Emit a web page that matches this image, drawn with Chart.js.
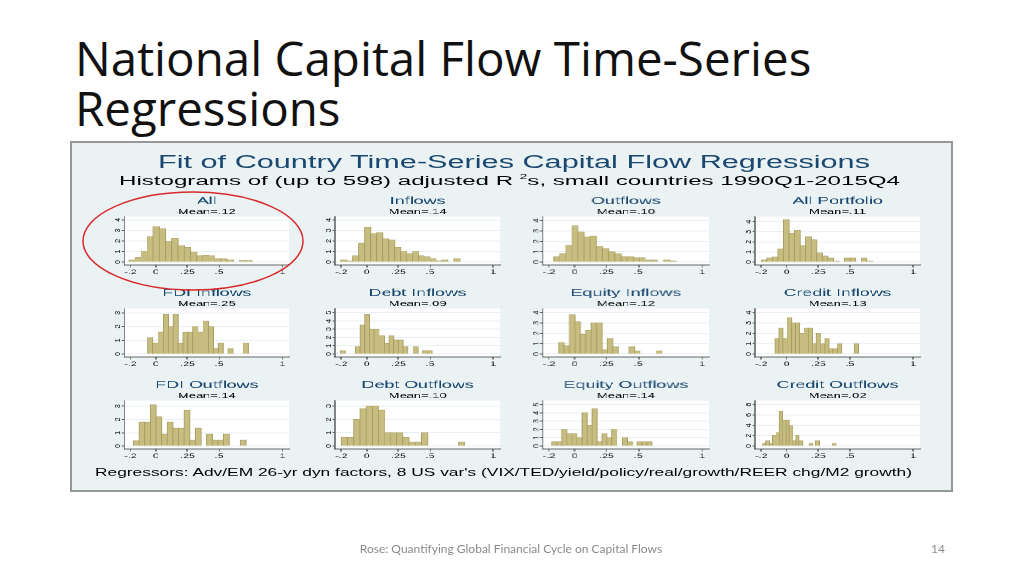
<!DOCTYPE html>
<html>
<head>
<meta charset="utf-8">
<script src="https://cdn.jsdelivr.net/npm/chart.js@4.4.1/dist/chart.umd.min.js"></script>
<style>
  html, body { margin:0; padding:0; background:#fff; }
  body { width:1024px; height:575px; position:relative; overflow:hidden; font-family:"Liberation Sans", Arial, sans-serif; }
  #slideTitle { position:absolute; left:75px; top:33px; font-family:"Open Sans", "Noto Sans", sans-serif; font-size:47.5px; line-height:50px; color:#111; white-space:nowrap; }
  #frame { position:absolute; left:70px; top:141px; width:883px; height:351px; background:#eaf2f3; overflow:hidden; }
  #frameBorder { position:absolute; left:70px; top:141px; width:883px; height:351px; box-sizing:border-box; border:2px solid #979797; pointer-events:none; }
  #stretch { position:absolute; left:0; top:0; height:351px; transform-origin:0 0; }
  .panel { position:absolute; }
  .fit { position:absolute; white-space:nowrap; line-height:1.2; transform-origin:0 0; }
  #chartTitle { font-size:17.5px; color:#1a476f; }
  #chartSub { font-size:12.5px; color:#000; }
  #chartSub sup { font-size:7px; vertical-align:6px; line-height:0; }
  #chartNote { font-size:10.5px; color:#000; }
  #slideFooter { position:absolute; left:311px; width:400px; top:541px; text-align:center; font-family:Lato, "Open Sans", sans-serif; font-size:12px; line-height:16px; color:#8b8b8b; }
  #pageNum { position:absolute; left:918px; width:40px; top:541px; text-align:center; font-family:Lato, "Open Sans", sans-serif; font-size:12px; line-height:16px; color:#8b8b8b; }
  #ring { position:absolute; left:0; top:0; pointer-events:none; }
</style>
</head>
<body>
<div id="slideTitle">National Capital Flow Time-Series<br>Regressions</div>

<div id="frame"><div id="stretch"></div></div>
<div id="frameBorder"></div>

<div class="fit" id="chartTitle">Fit of Country Time-Series Capital Flow Regressions</div>
<div class="fit" id="chartSub">Histograms of (up to 598) adjusted R <sup>2</sup>s, small countries 1990Q1-2015Q4</div>
<div class="fit" id="chartNote">Regressors: Adv/EM 26-yr dyn factors, 8 US var's (VIX/TED/yield/policy/real/growth/REER chg/M2 growth)</div>

<svg id="ring" width="1024" height="575"><ellipse cx="193" cy="241" rx="110" ry="49" fill="none" stroke="#d82a2a" stroke-width="1.5"/></svg>

<div id="slideFooter">Rose: Quantifying Global Financial Cycle on Capital Flows</div>
<div id="pageNum">14</div>

<script>
// ---------------- DATA ----------------
const panelTitles = ['All', 'Inflows', 'Outflows', 'All Portfolio',
                     'FDI Inflows', 'Debt Inflows', 'Equity Inflows', 'Credit Inflows',
                     'FDI Outflows', 'Debt Outflows', 'Equity Outflows', 'Credit Outflows'];
const panelMeans = ['.12', '.14', '.10', '.11', '.25', '.09', '.12', '.13', '.14', '.10', '.14', '.02'];

// histogram bins (adjusted R-squared): left edge of first bin and bin width, per panel
const binStart = [-0.215, -0.204, -0.165, -0.200, -0.0625, -0.205, -0.126, -0.094, -0.178, -0.200, -0.178, -0.190];
const binWidth = [0.0487, 0.0471, 0.0480, 0.0440, 0.0396, 0.0380, 0.0427, 0.0330, 0.0445, 0.0487, 0.0393, 0.0263];

// densities per bin
const densAll          = [0.2, 0.45, 1.0, 2.4, 3.35, 3.15, 1.95, 2.25, 1.55, 1.4, 0.95, 0.6, 0.65, 0.6, 0.3, 0.3, 0.2, 0, 0.15, 0.15];
const densInflows      = [0.2, 0.1, 0.6, 1.8, 3.3, 2.7, 2.8, 2.2, 2.1, 1.4, 1.0, 0.8, 1.0, 0.6, 0.5, 0.3, 0.1, 0.2, 0, 0.3];
const densOutflows     = [0.5, 0.8, 1.6, 3.5, 2.9, 2.4, 2.5, 1.5, 1.3, 1.0, 0.8, 0.5, 0.5, 0.4, 0.4, 0.2, 0.2, 0, 0.2, 0.1];
const densAllPortfolio = [0.2, 0.4, 0.5, 1.3, 4.2, 2.85, 3.15, 1.6, 2.5, 2.2, 0.9, 0.6, 0.4, 0.1, 0, 0.4, 0.4, 0, 0.4, 0.1];
const densFdiIn        = [1.2, 0.8, 1.6, 2.9, 2.0, 2.9, 0.8, 1.6, 1.6, 2.0, 1.6, 2.4, 2.0, 0.4, 0.8, 0, 0.4, 0, 0, 0.8];
const densDebtIn       = [0.4, 0, 0, 0.9, 3.5, 4.8, 3.0, 3.0, 2.2, 1.3, 2.2, 1.7, 1.7, 0.9, 0, 0.9, 0, 0.4, 0.4];
const densEquityIn     = [1.1, 0.8, 3.8, 3.1, 1.9, 2.3, 3.0, 3.0, 0.4, 1.5, 0.7, 0, 0, 0.7, 0.3, 0, 0, 0, 0.3];
const densCreditIn     = [1.5, 2.5, 1.5, 3.5, 3.0, 3.0, 2.0, 2.5, 2.5, 1.0, 2.0, 1.0, 1.5, 0.5, 0.5, 1.0, 0, 0, 0, 1.0];
const densFdiOut       = [0.4, 1.8, 1.8, 3.1, 2.2, 0.9, 1.8, 1.35, 1.35, 2.7, 0.45, 1.35, 0, 0.9, 0.45, 0.45, 0.9, 0, 0, 0.45];
const densDebtOut      = [0.65, 0.65, 2.0, 2.8, 3.0, 3.0, 2.7, 1.0, 1.0, 1.0, 0.65, 0.3, 0.3, 1.0, 0, 0, 0, 0, 0, 0.3];
const densEquityOut    = [0.5, 0.5, 2.0, 1.5, 1.5, 1.0, 4.0, 2.5, 4.5, 0.5, 1.5, 1.0, 2.0, 0, 1.0, 0.5, 0, 0.5, 0.5, 0.5];
const densCreditOut    = [0.5, 1.0, 0.5, 2.1, 2.6, 6.7, 5.0, 5.0, 3.9, 1.0, 2.1, 1.0, 0, 0, 0.5, 0, 1.0, 0, 0, 0, 0, 0.5];

const panelDens = [densAll, densInflows, densOutflows, densAllPortfolio,
                   densFdiIn, densDebtIn, densEquityIn, densCreditIn,
                   densFdiOut, densDebtOut, densEquityOut, densCreditOut];

// axis ticks
const xTickValues = [-0.2, 0, 0.25, 0.5, 1];
const xTickLabels = ['-.2', '0', '.25', '.5', '1'];
const yTicks = [[0,1,2,3,4], [0,1,2,3,4], [0,1,2,3,4], [0,1,2,3,4],
                [0,1,2,3], [0,1,2,3,4,5], [0,1,2,3,4], [0,1,2,3,4],
                [0,1,2,3], [0,1,2,3], [0,1,2,3,4,5], [0,2,4,6,8]];
const yMaxes = [4.31, 4.31, 4.38, 4.5, 3.31, 5.48, 4.38, 4.38, 3.42, 3.41, 5.48, 8.76];

// ---------------- LAYOUT / STYLE ----------------
const S = 1.7;                     // horizontal stretch of the pasted graph
const X_MIN = -0.25, X_MAX = 1.055, PX_PER_X = 127;
const zeroX = [156, 366, 575, 786];
const rowTop = [216, 308, 400];
const Y_AREA = 22, PLOT_H = 49, X_AREA = 14, TOP_AREA = 24;
const NAVY = '#1a476f', AXIS = '#333', GRID = '#e4ecee';
const BAR_FILL = '#c8bd80', BAR_LINE = '#a59c5e';

Chart.defaults.font.family = '"Liberation Sans", Arial, sans-serif';

const stretch = document.getElementById('stretch');
stretch.style.width = (883 / S) + 'px';
stretch.style.transform = 'scaleX(' + S + ')';

const plotBg = {
  id: 'plotBg',
  beforeDraw(chart) {
    const a = chart.chartArea, ctx = chart.ctx;
    ctx.save(); ctx.fillStyle = '#fff';
    ctx.fillRect(a.left, a.top, a.right - a.left, a.bottom - a.top);
    ctx.restore();
  }
};
const yRotLabels = {
  id: 'yRotLabels',
  afterDraw(chart) {
    const s = chart.scales.y, ctx = chart.ctx, a = chart.chartArea;
    ctx.save();
    ctx.fillStyle = '#111';
    ctx.font = '7px "Liberation Sans", Arial, sans-serif';
    ctx.textAlign = 'center'; ctx.textBaseline = 'middle';
    s.ticks.forEach(t => {
      const y = s.getPixelForValue(t.value);
      ctx.save();
      ctx.translate(a.left - 6.5 / S, y);
      ctx.scale(1 / S, 1);
      ctx.rotate(-Math.PI / 2);
      ctx.fillText(String(t.value), 0, 0);
      ctx.restore();
    });
    ctx.restore();
  }
};

const plotW = (X_MAX - X_MIN) * PX_PER_X;

panelTitles.forEach((title, i) => {
  const c = i % 4, r = Math.floor(i / 4);
  const leftOrig = zeroX[c] + X_MIN * PX_PER_X - Y_AREA;
  const wOrig = Y_AREA + plotW + Y_AREA;
  const wIn = wOrig / S, hIn = TOP_AREA + PLOT_H + X_AREA;
  const box = document.createElement('div');
  box.className = 'panel';
  box.style.left = ((leftOrig - 70) / S) + 'px';
  box.style.top = (rowTop[r] - TOP_AREA - 141) + 'px';
  box.style.width = wIn + 'px';
  box.style.height = hIn + 'px';
  const cv = document.createElement('canvas');
  cv.width = wIn; cv.height = hIn;
  cv.style.width = wIn + 'px'; cv.style.height = hIn + 'px';
  box.appendChild(cv);
  stretch.appendChild(box);

  const dens = panelDens[i];
  const pts = dens.map((h, k) => ({ x: binStart[i] + binWidth[i] * (k + 0.5), y: h > 0 ? h : null }));
  const yMax = yMaxes[i];
  const yMin = -yMax * 3 / 46;

  new Chart(cv, {
    type: 'bar',
    data: { datasets: [{
      data: pts,
      backgroundColor: BAR_FILL,
      borderColor: BAR_LINE,
      borderWidth: 0.5,
      categoryPercentage: 1,
      barPercentage: 1
    }]},
    options: {
      responsive: false, animation: false,
      devicePixelRatio: 2,
      layout: { padding: { left: Y_AREA / S, right: Y_AREA / S, top: 0, bottom: 0 }, autoPadding: false },
      plugins: {
        legend: { display: false },
        tooltip: { enabled: false },
        title: { display: true, text: title, color: NAVY, font: { size: 10.5, weight: 'normal' }, padding: { top: 2.7, bottom: 0 } },
        subtitle: { display: true, text: 'Mean=' + panelMeans[i], color: '#000', font: { size: 7.6 }, padding: { top: 0, bottom: 0.18 } }
      },
      scales: {
        x: {
          type: 'linear', min: X_MIN, max: X_MAX, offset: false,
          afterBuildTicks: s => { s.ticks = xTickValues.map(v => ({ value: v })); },
          afterFit: s => { s.height = X_AREA; s.paddingLeft = 0; s.paddingRight = 0; },
          ticks: { callback: (v, k) => xTickLabels[k], font: { size: 6.2 }, color: '#111', padding: 1.3, maxRotation: 0, minRotation: 0, autoSkip: false },
          grid: { offset: false, drawOnChartArea: false, drawTicks: true, tickLength: 2.5, tickColor: AXIS, tickWidth: 0.6 },
          border: { display: true, color: AXIS, width: 0.8 }
        },
        y: {
          min: yMin, max: yMax,
          afterBuildTicks: s => { s.ticks = yTicks[i].map(v => ({ value: v })); },
          afterFit: s => { s.width = 0; },
          ticks: { display: false },
          grid: { color: GRID, lineWidth: 0.8, drawTicks: true, tickLength: 1.6, tickColor: AXIS, tickWidth: 0.8 },
          border: { display: true, color: AXIS, width: 0.6 }
        }
      }
    },
    plugins: [plotBg, yRotLabels]
  });
});

// stretched titles of the pasted graph
function placeFit(id, x0, x1, cy) {
  const el = document.getElementById(id);
  el.style.transform = 'none';
  const rc = el.getBoundingClientRect();
  el.style.left = x0 + 'px';
  el.style.top = (cy - rc.height / 2) + 'px';
  el.style.transform = 'scaleX(' + ((x1 - x0) / rc.width) + ')';
}
placeFit('chartTitle', 158, 870, 162);
placeFit('chartSub', 119, 900, 181.5);
placeFit('chartNote', 95, 912, 472);
</script>
</body>
</html>
